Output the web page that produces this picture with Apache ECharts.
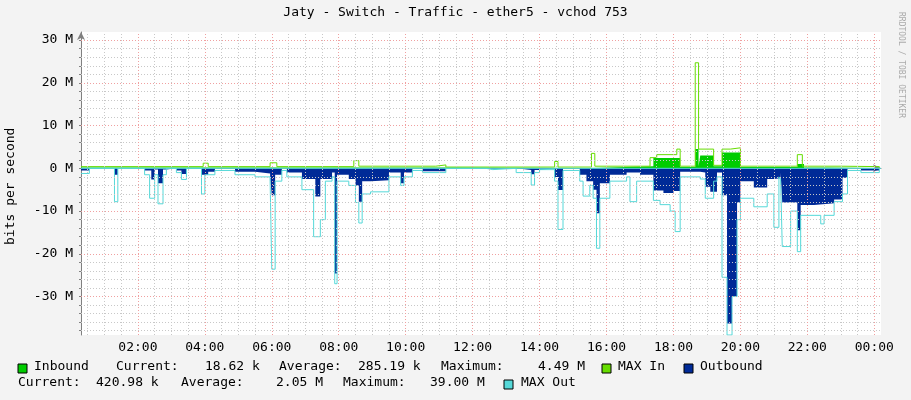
<!DOCTYPE html>
<html><head><meta charset="utf-8">
<script src="https://cdn.jsdelivr.net/npm/echarts@6/dist/echarts.min.js"></script>
<style>html,body{margin:0;padding:0;background:#f3f3f3}#c{width:911px;height:400px}</style>
</head><body><div id="c"></div>
<script>
const xTickHours = [2,4,6,8,10,12,14,16,18,20,22,24];
const yTickValues = [-30,-20,-10,0,10,20,30];
const inbound = [[0.3,0.2],[11.5,0.1],[15.5,0.5],[17.4,2.4],[18.2,0.3],[18.65,4.5],[18.75,0.5],[18.8,3],[19.2,0.5],[19.45,3.7],[20.0,0.3],[21.7,1],[21.9,0.2],[24.15,0.1]];
const maxIn = [[0.3,0.4],[3.95,1.2],[4.1,0.4],[5.95,1.3],[6.15,0.4],[8.45,1.8],[8.6,0.5],[10.9,0.8],[11.2,0.3],[14.45,1.6],[14.55,0.3],[15.55,3.5],[15.65,0.5],[17.3,2.5],[17.5,3.2],[18.1,4.5],[18.2,0.5],[18.65,24.7],[18.75,4.5],[19.2,0.7],[19.45,4.5],[19.7,4.8],[20.0,0.5],[21.7,3.2],[21.85,0.5],[23.0,0.4],[24.15,0.1]];
const outbound = [[0.3,-0.5],[0.55,0],[1.3,-1.5],[1.4,0],[2.2,-0.5],[2.4,-2.6],[2.5,-0.3],[2.6,-3.5],[2.75,-0.3],[2.85,0],[3.15,-0.5],[3.3,-1.3],[3.45,0],[3.9,-1.5],[4.1,-0.8],[4.3,0],[4.9,-0.8],[5.5,-1.2],[5.95,-2],[6.0,-6.3],[6.1,-1.5],[6.3,0],[6.45,-1],[6.9,-2.5],[7.3,-6.6],[7.45,-2.5],[7.8,-1],[7.88,-24.6],[7.95,-1.5],[8.3,-2.5],[8.5,-4],[8.6,-7.8],[8.7,-3],[8.95,-2.8],[9.5,-1],[9.85,-3.5],[9.95,-1],[10.2,0],[10.5,-0.7],[11.2,0],[12.4,-0.2],[12.6,0],[13.3,-0.4],[13.75,-1.4],[13.85,-0.4],[14.0,0],[14.45,-2],[14.55,-5.1],[14.7,0],[15.2,-1.5],[15.4,-3],[15.6,-5],[15.7,-10.5],[15.8,-3.5],[16.1,-1.5],[16.6,-1],[17.0,-1.5],[17.4,-5.2],[17.7,-5.8],[18.0,-5.3],[18.2,-0.8],[18.8,-1],[18.95,-4.3],[19.1,-5.5],[19.3,-1],[19.45,-6.3],[19.6,-36.3],[19.75,-30],[19.9,-8],[20.0,-3],[20.4,-4.5],[20.8,-2.5],[21.0,-2.3],[21.2,-1],[21.25,-8],[21.7,-14.5],[21.8,-8.6],[22.2,-8.2],[22.8,-7.3],[23.05,-2.2],[23.2,0],[23.6,-0.5],[24.15,0]];
const maxOut = [[0.3,-1.2],[0.55,0],[1.3,-7.8],[1.4,0],[2.2,-1.5],[2.35,-7],[2.5,-1.5],[2.6,-8.3],[2.75,-1.5],[2.85,0],[3.15,-1],[3.3,-2.6],[3.45,0],[3.9,-6],[4.0,-1.5],[4.3,-0.5],[4.9,-1.5],[5.5,-2],[5.95,-3],[6.0,-23.6],[6.1,-3],[6.3,-0.5],[6.45,-2],[6.9,-5],[7.25,-16],[7.45,-12],[7.6,-3],[7.8,-2],[7.88,-27],[7.95,-3],[8.3,-4],[8.5,-8],[8.6,-12.8],[8.7,-6],[8.95,-5.5],[9.5,-2],[9.85,-4],[9.95,-2],[10.2,-0.5],[10.5,-1],[11.2,0],[12.4,-0.3],[12.6,0],[13.3,-1],[13.75,-3.9],[13.85,-1],[14.0,-0.3],[14.45,-3],[14.55,-14.3],[14.7,-0.5],[15.2,-3],[15.3,-6.5],[15.5,-4],[15.6,-7],[15.7,-18.7],[15.8,-7],[16.1,-3],[16.6,-2],[16.7,-7.8],[16.9,-3],[17.4,-7.5],[17.6,-8.5],[17.9,-10],[18.05,-14.8],[18.2,-2],[18.8,-2.5],[18.95,-7],[19.2,-3],[19.3,-2],[19.45,-25.5],[19.6,-39],[19.75,-30],[19.9,-12],[20.0,-7],[20.4,-9],[20.8,-6],[21.0,-13.8],[21.15,-2],[21.2,-2.5],[21.25,-18.3],[21.5,-10],[21.7,-19.5],[21.8,-11],[22.2,-11],[22.4,-13],[22.5,-11],[22.8,-7.8],[23.05,-6],[23.2,-0.5],[23.6,-1],[24.15,0]];

const X0=0.3, X1=24.2, Y0=-39, Y1=31.9;
const halfHours=[]; for(let h=0.5;h<X1;h+=0.5) halfHours.push(h);
const twoM=[]; for(let v=-38;v<=30;v+=2) twoM.push(v);
const mono='DejaVu Sans Mono';
const gl=[];
halfHours.forEach(h=>{ if(h%2!==0) gl.push({xAxis:h,lineStyle:{color:'#c8c8c8',type:[1,2],width:1}}); });
twoM.forEach(v=>{ if(v%10!==0) gl.push({yAxis:v,lineStyle:{color:'#c8c8c8',type:[1,2],width:1}}); });
xTickHours.forEach(h=>gl.push({xAxis:h,lineStyle:{color:'#f0a0a0',type:[1,2],width:1}}));
yTickValues.forEach(v=>{ if(v!==0) gl.push({yAxis:v,lineStyle:{color:'#f0a0a0',type:[1,2],width:1}}); });

const chart=echarts.init(document.getElementById('c'));
function txt(x,y,s){return {type:'text',left:x,top:y,style:{text:s,font:'13px "'+mono+'"',fill:'#000'}};}
function box(x,y,c){return {type:'rect',shape:{x:x,y:y,width:9,height:9},style:{fill:c,stroke:'#000',lineWidth:1}};}
chart.setOption({
  backgroundColor:'#f3f3f3', animation:false,
  grid:{left:81,right:30,top:32,bottom:65,show:true,backgroundColor:'#fff',borderWidth:0},
  xAxis:{type:'value',min:X0,max:X1,
    axisLine:{lineStyle:{color:'#808080'},symbol:['none','arrow'],symbolSize:[6,8]},
    axisTick:{customValues:halfHours,length:2,lineStyle:{color:'#808080'}},
    axisLabel:{customValues:xTickHours,formatter:v=>String(Math.round(v)%24).padStart(2,'0')+':00',color:'#000',fontFamily:mono,fontSize:13,margin:6},
    splitLine:{show:false}},
  yAxis:{type:'value',min:Y0,max:Y1,
    axisLine:{show:true,lineStyle:{color:'#808080'},symbol:['none','arrow'],symbolSize:[6,8]},
    axisTick:{customValues:twoM,length:2,show:true,lineStyle:{color:'#808080'}},
    axisLabel:{customValues:yTickValues,formatter:v=>v+' M',color:'#000',fontFamily:mono,fontSize:13,margin:8},
    splitLine:{show:false}},
  series:[
    {type:'line',data:[],silent:true,markLine:{silent:true,symbol:'none',label:{show:false},data:gl}},
    {name:'Inbound',type:'line',step:'end',data:inbound,symbol:'none',lineStyle:{width:0},areaStyle:{color:'#00cc00',opacity:1},z:3},
    {name:'Outbound',type:'line',step:'end',data:outbound,symbol:'none',lineStyle:{width:0},areaStyle:{color:'#002a97',opacity:1},z:3},
    {name:'MAX In',type:'line',step:'end',data:maxIn,symbol:'none',lineStyle:{width:1,color:'#66dd00'},z:4},
    {name:'MAX Out',type:'line',step:'end',data:maxOut,symbol:'none',lineStyle:{width:1,color:'#55d8d8'},z:4},
    {type:'line',data:[[X0,0],[X1,0]],symbol:'none',lineStyle:{width:1,color:'#55d8d8'},z:5,silent:true}
  ],
  graphic:[
    {type:'text',left:'center',top:6,style:{text:'Jaty - Switch - Traffic - ether5 - vchod 753',font:'13px "'+mono+'"',fill:'#000'}},
    {type:'text',x:4,y:245,rotation:Math.PI/2,style:{text:'bits per second',font:'13px "'+mono+'"',fill:'#000'}},
    {type:'text',x:905,y:12,rotation:-Math.PI/2,style:{text:'RRDTOOL / TOBI OETIKER',font:'8px "'+mono+'"',fill:'#aaa'}},
    box(18,364,'#00cc00'),txt(34,360,'Inbound'),txt(116,360,'Current:'),txt(205,360,'18.62 k'),txt(279,360,'Average:'),txt(358,360,'285.19 k'),txt(441,360,'Maximum:'),txt(538,360,'4.49 M'),
    box(602,364,'#66dd00'),txt(618,360,'MAX In'),box(684,364,'#002a97'),txt(700,360,'Outbound'),
    txt(18,376,'Current:'),txt(96,376,'420.98 k'),txt(181,376,'Average:'),txt(276,376,'2.05 M'),txt(343,376,'Maximum:'),txt(430,376,'39.00 M'),
    box(504,380,'#55d8d8'),txt(521,376,'MAX Out')
  ]
});
</script></body></html>
